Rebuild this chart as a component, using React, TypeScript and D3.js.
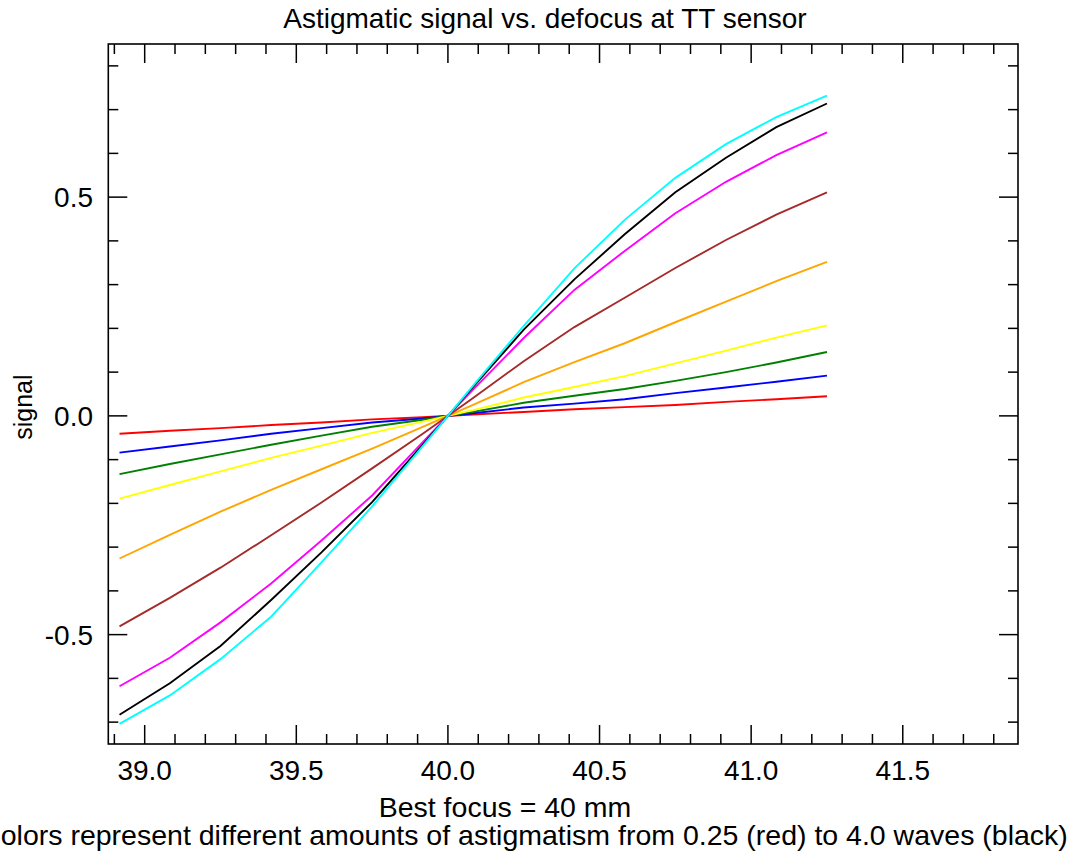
import React from "react";
import * as d3 from "d3";

const defocus = [38.917, 39.083, 39.25, 39.417, 39.583, 39.75, 39.917, 40.083, 40.25, 40.417, 40.583, 40.75, 40.917, 41.083, 41.25];

const red = [-0.041, -0.034, -0.028, -0.021, -0.015, -0.008, -0.003, 0.003, 0.009, 0.015, 0.020, 0.025, 0.032, 0.038, 0.045];
const blue = [-0.084, -0.070, -0.056, -0.041, -0.028, -0.015, -0.006, 0.006, 0.019, 0.028, 0.038, 0.052, 0.065, 0.078, 0.092];
const green = [-0.133, -0.110, -0.088, -0.066, -0.045, -0.025, -0.009, 0.009, 0.030, 0.046, 0.0615, 0.080, 0.100, 0.122, 0.146];
const yellow = [-0.189, -0.158, -0.127, -0.096, -0.068, -0.039, -0.013, 0.013, 0.042, 0.066, 0.091, 0.120, 0.149, 0.179, 0.207];
const orange = [-0.326, -0.272, -0.219, -0.169, -0.122, -0.075, -0.025, 0.025, 0.077, 0.123, 0.166, 0.214, 0.261, 0.308, 0.352];
const brown = [-0.481, -0.416, -0.347, -0.273, -0.198, -0.120, -0.041, 0.041, 0.125, 0.203, 0.270, 0.338, 0.402, 0.460, 0.511];
const magenta = [-0.618, -0.553, -0.472, -0.383, -0.285, -0.182, -0.060, 0.060, 0.178, 0.288, 0.377, 0.463, 0.535, 0.596, 0.648];
const black = [-0.683, -0.611, -0.526, -0.421, -0.312, -0.197, -0.066, 0.066, 0.197, 0.312, 0.415, 0.511, 0.590, 0.660, 0.714];
const cyan = [-0.704, -0.639, -0.556, -0.459, -0.335, -0.207, -0.069, 0.069, 0.206, 0.337, 0.448, 0.544, 0.621, 0.683, 0.732];

const seriesNames = ["red", "blue", "green", "yellow", "orange", "brown", "magenta", "black", "cyan"];
const seriesValues = [red, blue, green, yellow, orange, brown, magenta, black, cyan];
const seriesColors = ["#ff0000", "#0000ff", "#008000", "#ffff00", "#ffa500", "#a52a2a", "#ff00ff", "#000000", "#00ffff"];

const xMajorTicks = [39.0, 39.5, 40.0, 40.5, 41.0, 41.5];
const yMajorTicks = [-0.5, 0.0, 0.5];

const titleText = "Astigmatic signal vs. defocus at TT sensor";
const xTitle = "Best focus = 40 mm";
const subtitle = "Colors represent different amounts of astigmatism from 0.25 (red) to 4.0 waves (black)";
const yTitle = "signal";

const W = 1073;
const H = 855;
const L = 108.3;
const R = 1018;
const T = 44;
const B = 744;
const FONT = "'Liberation Sans', Helvetica, Arial, sans-serif";

export default function App() {
  const x = d3.scaleLinear().domain([38.88, 41.88]).range([L, R]);
  const y = d3.scaleLinear().domain([-0.75, 0.85]).range([B, T]);

  const xMinor = d3.range(389, 419).map((v) => v / 10).filter((v) => v > 38.88 && v < 41.88);
  const yMinor = d3.range(-7, 9).map((v) => v / 10);
  const isMajorX = (v: number) => xMajorTicks.some((m) => Math.abs(m - v) < 1e-6);
  const isMajorY = (v: number) => yMajorTicks.some((m) => Math.abs(m - v) < 1e-6);

  const line = d3
    .line<number>()
    .x((_, i) => x(defocus[i]))
    .y((d) => y(d));

  const major = 19;
  const minor = 10;

  return (
    <svg width={W} height={H} style={{ position: "absolute", left: 0, top: 0, background: "#fff" }}>
      <rect x={0} y={0} width={W} height={H} fill="#fff" />
      {seriesValues.map((vals, k) => (
        <path key={seriesNames[k]} d={line(vals) || ""} fill="none" stroke={seriesColors[k]} strokeWidth={1.9} />
      ))}
      <rect x={L} y={T} width={R - L} height={B - T} fill="none" stroke="#000" strokeWidth={1.6} />
      {xMinor.map((v) => {
        const len = isMajorX(v) ? major : minor;
        const px = x(v);
        return (
          <g key={"xt" + v}>
            <line x1={px} x2={px} y1={B} y2={B - len} stroke="#000" strokeWidth={1.5} />
            <line x1={px} x2={px} y1={T} y2={T + len} stroke="#000" strokeWidth={1.5} />
          </g>
        );
      })}
      {yMinor.map((v) => {
        const len = isMajorY(v) ? major : minor;
        const py = y(v);
        return (
          <g key={"yt" + v}>
            <line x1={L} x2={L + len} y1={py} y2={py} stroke="#000" strokeWidth={1.5} />
            <line x1={R} x2={R - len} y1={py} y2={py} stroke="#000" strokeWidth={1.5} />
          </g>
        );
      })}
      {xMajorTicks.map((v) => (
        <text key={"xl" + v} x={x(v)} y={780} textAnchor="middle" fontFamily={FONT} fontSize={28} fill="#000">
          {v.toFixed(1)}
        </text>
      ))}
      {yMajorTicks.map((v) => (
        <text key={"yl" + v} x={93} y={y(v) + 10} textAnchor="end" fontFamily={FONT} fontSize={28} fill="#000">
          {v.toFixed(1)}
        </text>
      ))}
      <text x={545} y={28} textAnchor="middle" fontFamily={FONT} fontSize={28} fill="#000">
        {titleText}
      </text>
      <text x={505} y={817} textAnchor="middle" fontFamily={FONT} fontSize={28.5} fill="#000">
        {xTitle}
      </text>
      <text x={524} y={845} textAnchor="middle" fontFamily={FONT} fontSize={28.5} fill="#000">
        {subtitle}
      </text>
      <text
        transform={`translate(32, ${y(0.02)}) rotate(-90)`}
        textAnchor="middle"
        fontFamily={FONT}
        fontSize={25}
        fill="#000"
      >
        {yTitle}
      </text>
    </svg>
  );
}
